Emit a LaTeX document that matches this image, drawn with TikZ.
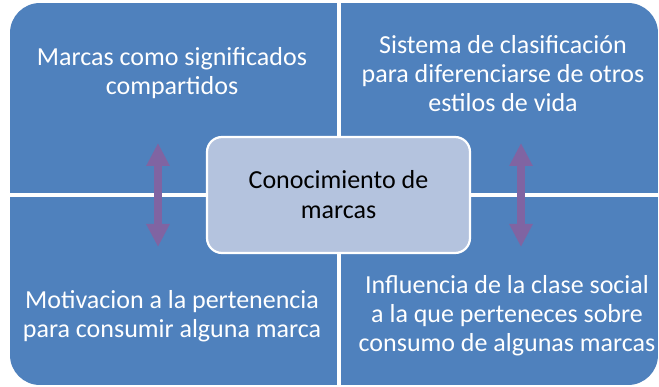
\documentclass[tikz,border=0pt]{standalone}
\usepackage{fontspec}
\setmainfont{Carlito}
\usetikzlibrary{arrows.meta}
\definecolor{quadblue}{HTML}{4F81BD}
\definecolor{centerblue}{HTML}{B4C3DE}
\definecolor{arrowpurple}{HTML}{8064A2}
\tikzset{
  quadtext/.style={text=white, align=center, font=\fontsize{26}{29}\selectfont, inner sep=0pt},
  centertext/.style={fill=centerblue, draw=white, line width=2.2pt, rounded corners=15pt,
    minimum width=263pt, minimum height=116pt, align=center, text=black,
    font=\fontsize{26}{30}\selectfont},
  duoarrow/.style={draw=arrowpurple, line width=8pt,
    {Triangle[width=22pt,length=23pt]}-{Triangle[width=22pt,length=23pt]}}
}
\begin{document}
\begin{tikzpicture}[x=1pt,y=-1pt]
\useasboundingbox (0,0) rectangle (659,387);
\fill[white] (0,0) rectangle (659,387);
\begin{scope}
  \clip[rounded corners=30pt] (10,3) rectangle (658,385);
  \fill[quadblue] (10,3) rectangle (658,385);
  \fill[white] (337,3) rectangle (340.5,385);
  \fill[white] (10,193.5) rectangle (658,196.8);
\end{scope}
\node[quadtext] (tl) at (172,73) {Marcas como significados\\compartidos};
\node[quadtext] (tr) at (503,74) {Sistema de clasificación\\para diferenciarse de otros\\estilos de vida};
\node[quadtext] (bl) at (172,316) {Motivacion a la pertenencia\\para consumir alguna marca};
\node[quadtext] (br) at (507,316) {Influencia de la clase social\\a la que perteneces sobre\\consumo de algunas marcas};
\coordinate (la) at (158,143);
\coordinate (lb) at (158,247);
\coordinate (ra) at (521,143);
\coordinate (rb) at (521,247);
\draw[duoarrow] (la) -- (lb);
\draw[duoarrow] (ra) -- (rb);
\node[centertext] (c) at (338.5,195) {Conocimiento de\\marcas};
\end{tikzpicture}
\end{document}
